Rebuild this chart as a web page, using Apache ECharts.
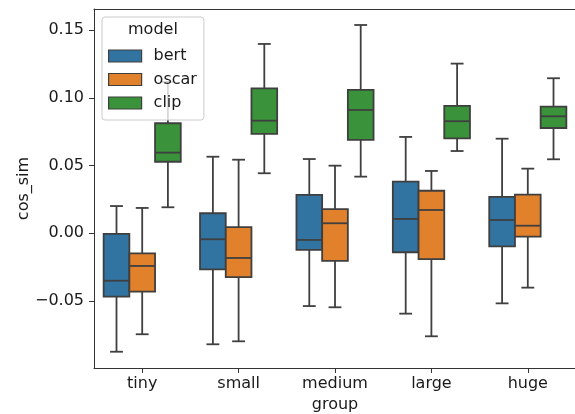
<!DOCTYPE html>
<html>
<head>
<meta charset="utf-8">
<script src="https://cdn.jsdelivr.net/npm/echarts@6/dist/echarts.min.js"></script>
<style>html,body{margin:0;padding:0;background:#fff}#c{width:575px;height:414px}</style>
</head>
<body>
<div id="c"></div>
<script>
// categories
const groups = ['tiny', 'small', 'medium', 'large', 'huge'];
const models = ['bert', 'oscar', 'clip'];
// [whisker low, Q1, median, Q3, whisker high]
const bertStats = [
  [-0.0874, -0.0468, -0.0350, -0.0005, 0.0201],
  [-0.0819, -0.0266, -0.0044, 0.0148, 0.0565],
  [-0.0537, -0.0123, -0.0049, 0.0283, 0.0548],
  [-0.0593, -0.0140, 0.0106, 0.0381, 0.0711],
  [-0.0517, -0.0096, 0.0098, 0.0268, 0.0698]
];
const oscarStats = [
  [-0.0745, -0.0431, -0.0241, -0.0148, 0.0187],
  [-0.0797, -0.0323, -0.0182, 0.0046, 0.0543],
  [-0.0546, -0.0204, 0.0074, 0.0179, 0.0499],
  [-0.0760, -0.0190, 0.0172, 0.0314, 0.0460],
  [-0.0401, -0.0025, 0.0056, 0.0285, 0.0477]
];
const clipStats = [
  [0.0192, 0.0528, 0.0595, 0.0812, 0.1117],
  [0.0443, 0.0733, 0.0831, 0.1070, 0.1397],
  [0.0418, 0.0689, 0.0910, 0.1058, 0.1537],
  [0.0607, 0.0701, 0.0827, 0.0940, 0.1252],
  [0.0546, 0.0777, 0.0863, 0.0934, 0.1144]
];
const yTicks = [-0.05, 0, 0.05, 0.10, 0.15];

const statsList = [bertStats, oscarStats, clipStats];
const colors = ['#3274a1', '#e1812c', '#3a923a'];
const edge = '#3f3f3f';
const FONT = 'DejaVu Sans';
const FS = 16;
const spine = { show: true, onZero: false, lineStyle: { color: '#333', width: 1 } };

function makeRender(hueIdx, color) {
  return function (params, api) {
    const cat = api.value(0);
    const low = api.value(1), q1 = api.value(2), med = api.value(3), q3 = api.value(4), high = api.value(5);
    const band = api.size([1, 0])[0];
    const w = band * 0.8 / 3;
    const cx = api.coord([cat, med])[0] + (hueIdx - 1) * w;
    const y = v => api.coord([cat, v])[1];
    const ls = { stroke: edge, lineWidth: 1.8 };
    const cap = w / 4;
    return {
      type: 'group',
      children: [
        { type: 'line', shape: { x1: cx, y1: y(q3), x2: cx, y2: y(high) }, style: ls },
        { type: 'line', shape: { x1: cx - cap, y1: y(high), x2: cx + cap, y2: y(high) }, style: ls },
        { type: 'line', shape: { x1: cx, y1: y(q1), x2: cx, y2: y(low) }, style: ls },
        { type: 'line', shape: { x1: cx - cap, y1: y(low), x2: cx + cap, y2: y(low) }, style: ls },
        { type: 'rect', shape: { x: cx - w / 2, y: y(q3), width: w, height: y(q1) - y(q3) },
          style: { fill: color, stroke: edge, lineWidth: 1.8 } },
        { type: 'line', shape: { x1: cx - w / 2, y1: y(med), x2: cx + w / 2, y2: y(med) }, style: ls }
      ]
    };
  };
}

const series = models.map((m, i) => ({
  name: m,
  type: 'custom',
  renderItem: makeRender(i, colors[i]),
  itemStyle: { color: colors[i] },
  encode: { x: 0, y: [1, 2, 3, 4, 5] },
  data: statsList[i].map((s, j) => [j].concat(s)),
  xAxisIndex: 0,
  yAxisIndex: 0,
  z: 2
}));

const chart = echarts.init(document.getElementById('c'), null, { renderer: 'canvas' });
chart.setOption({
  animation: false,
  textStyle: { fontFamily: FONT },
  grid: { left: 94, top: 9, right: -1, bottom: 46, show: false, containLabel: false, outerBoundsMode: 'none' },
  xAxis: [{
    type: 'category',
    data: groups,
    position: 'bottom',
    name: 'group',
    nameLocation: 'middle',
    nameGap: 29,
    nameMoveOverlap: false,
    nameTextStyle: { fontSize: FS, color: '#1a1a1a', fontFamily: FONT },
    axisLine: spine,
    axisTick: { show: true, alignWithLabel: true, length: 5, lineStyle: { color: '#333', width: 1 } },
    axisLabel: { fontSize: FS, color: '#1a1a1a', margin: 8, fontFamily: FONT },
    splitLine: { show: false }
  }, {
    type: 'category',
    data: groups,
    position: 'top',
    axisLine: spine,
    axisTick: { show: false },
    axisLabel: { show: false },
    splitLine: { show: false }
  }],
  yAxis: {
    type: 'value',
    min: -0.0994,
    max: 0.1655,
    name: 'cos_sim',
    nameLocation: 'middle',
    nameGap: 62,
    nameMoveOverlap: false,
    nameTextStyle: { fontSize: FS, color: '#1a1a1a', fontFamily: FONT },
    axisLine: spine,
    axisTick: { show: true, length: 5, customValues: yTicks, lineStyle: { color: '#333', width: 1 } },
    axisLabel: {
      fontSize: FS, color: '#1a1a1a', margin: 10, fontFamily: FONT,
      customValues: yTicks,
      formatter: v => (v < 0 ? '\u2212' : '') + Math.abs(v).toFixed(2)
    },
    splitLine: { show: false }
  },
  legend: {
    data: models,
    orient: 'vertical',
    left: 102,
    top: 17,
    padding: [31, 7, 9, 6],
    itemWidth: 33,
    itemHeight: 12,
    itemGap: 7.5,
    icon: 'rect',
    itemStyle: { borderColor: edge, borderWidth: 1.2 },
    backgroundColor: 'rgba(255,255,255,0.8)',
    borderColor: '#cccccc',
    borderWidth: 1,
    borderRadius: 3,
    textStyle: { fontSize: FS, color: '#1a1a1a', fontFamily: FONT, padding: [0, 0, 0, 7] },
    z: 10
  },
  graphic: [{
    type: 'text',
    left: 128,
    top: 22,
    z: 100,
    style: { text: 'model', fontSize: FS, fill: '#1a1a1a', fontFamily: FONT }
  }],
  series: series
});
</script>
</body>
</html>
